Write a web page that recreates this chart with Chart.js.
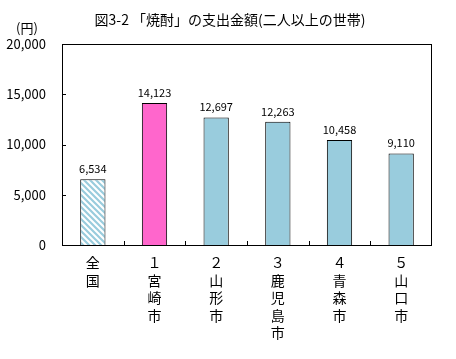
<!DOCTYPE html>
<html>
<head>
<meta charset="utf-8">
<script src="https://cdn.jsdelivr.net/npm/chart.js@4"></script>
<style>
html,body{margin:0;padding:0;background:#fff;}
#wrap{width:456px;height:359px;}
</style>
</head>
<body>
<div id="wrap"><canvas id="c" width="456" height="359"></canvas></div>
<script>
const titleText = '図3-2 「焼酎」の支出金額(二人以上の世帯)';
const unitText = '(円)';
const categories = [['全','国'], ['１','宮','崎','市'], ['２','山','形','市'], ['３','鹿','児','島','市'], ['４','青','森','市'], ['５','山','口','市']];
const values = [6534, 14123, 12697, 12263, 10458, 9110];
const yTickLabels = ['0', '5,000', '10,000', '15,000', '20,000'];
const pink = '#FF66CC';
const blue = '#99CCDD';

const FONT = "'Noto Sans CJK JP', sans-serif";

function makePattern() {
  const s = 6;
  const pc = document.createElement('canvas');
  pc.width = s; pc.height = s;
  const p = pc.getContext('2d');
  p.fillStyle = '#fff';
  p.fillRect(0, 0, s, s);
  p.strokeStyle = blue;
  p.lineWidth = 2.2;
  p.beginPath();
  p.moveTo(-s, -s); p.lineTo(2*s, 2*s);
  p.moveTo(-s, 0); p.lineTo(s, 2*s);
  p.moveTo(0, -s); p.lineTo(2*s, s);
  p.stroke();
  return document.getElementById('c').getContext('2d').createPattern(pc, 'repeat');
}
const hatch = makePattern();
const colors = [hatch, pink, blue, blue, blue, blue];

const decor = {
  id: 'decor',
  afterDatasetsDraw(chart) {
    const ctx = chart.ctx;
    const a = chart.chartArea;
    const xs = chart.scales.x, ys = chart.scales.y;
    ctx.save();
    // data labels
    ctx.fillStyle = '#000';
    ctx.font = '11px ' + FONT;
    ctx.textAlign = 'center';
    ctx.textBaseline = 'alphabetic';
    const meta = chart.getDatasetMeta(0);
    meta.data.forEach((bar, i) => {
      ctx.fillText(values[i].toLocaleString('en-US'), bar.x, bar.y - 6);
    });
    // frame
    ctx.strokeStyle = '#000';
    ctx.lineWidth = 1;
    ctx.strokeRect(Math.round(a.left) + 0.5, Math.round(a.top) + 0.5, Math.round(a.right - a.left) - 1, Math.round(a.bottom - a.top));
    // y ticks inward
    ctx.beginPath();
    for (let v = 5000; v < 20000; v += 5000) {
      const y = Math.round(ys.getPixelForValue(v)) + 0.5;
      ctx.moveTo(a.left, y); ctx.lineTo(a.left + 4, y);
    }
    // x ticks at category boundaries, inward
    for (let i = 0; i < categories.length - 1; i++) {
      const x = Math.round((xs.getPixelForValue(i) + xs.getPixelForValue(i + 1)) / 2) + 0.5;
      ctx.moveTo(x, a.bottom); ctx.lineTo(x, a.bottom - 4);
    }
    ctx.stroke();
    // title and unit
    ctx.font = '14px ' + FONT;
    ctx.textAlign = 'center';
    ctx.textBaseline = 'middle';
    ctx.fillText(titleText, 230, 20);
    ctx.font = '13px ' + FONT;
    ctx.fillText(unitText, 27, 28);
    ctx.restore();
  }
};

new Chart(document.getElementById('c'), {
  type: 'bar',
  data: {
    labels: categories,
    datasets: [{
      data: values,
      backgroundColor: colors,
      borderColor: '#000',
      borderWidth: 1,
      barPercentage: 0.41,
      categoryPercentage: 1.0
    }]
  },
  options: {
    responsive: false,
    animation: false,
    devicePixelRatio: 1,
    layout: { padding: { left: 0, right: 24, top: 44, bottom: 0 } },
    plugins: { legend: { display: false }, title: { display: false }, tooltip: { enabled: false } },
    scales: {
      x: {
        grid: { display: false, drawTicks: false },
        border: { display: false },
        ticks: { color: '#000', font: { family: FONT, size: 14, lineHeight: 1.25 }, padding: 9, maxRotation: 0, autoSkip: false },
        afterFit(s) { s.height = 114; }
      },
      y: {
        min: 0, max: 20000,
        grid: { display: false, drawTicks: false },
        border: { display: false },
        ticks: {
          stepSize: 5000, color: '#000', padding: 16,
          font: { family: FONT, size: 13 },
          callback: (v, i) => yTickLabels[i]
        },
        afterFit(s) { s.width = 62; }
      }
    }
  },
  plugins: [decor]
});
</script>
</body>
</html>
